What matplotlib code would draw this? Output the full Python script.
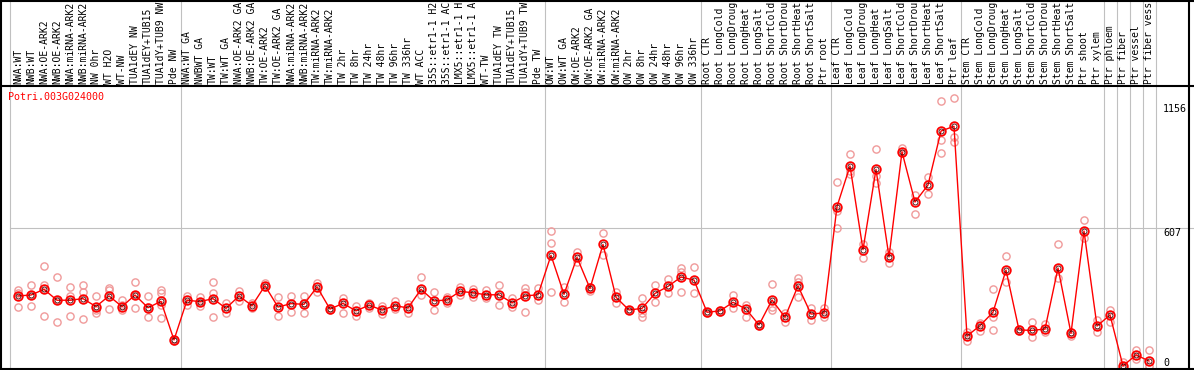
import numpy as np
import matplotlib
matplotlib.use("Agg")
import matplotlib.pyplot as plt

plt.rcParams['font.family'] = ['DejaVu Sans Mono']

gene = "Potri.003G024000"

# sample names as far as they are visible in the header strip
labels = [
    "NWA:WT", "NWB:WT", "NWA:OE-ARK2", "NWB:OE-ARK2", "NWA:miRNA-ARK2", "NWB:miRNA-ARK2",
    "NW 0hr", "WT H2O", "WT-NW", "TUA1dEY NW", "TUA1dEY+TUB15", "TUA1dY+TUB9 NW", "Pde NW",
    "NWA:WT GA", "NWBWT GA", "TW:WT", "TW:WT GA", "NWA:OE-ARK2 GA", "NWB:OE-ARK2 GA",
    "TW:OE-ARK2", "TW:OE-ARK2 GA", "NWA:miRNA-ARK2", "NWB:miRNA-ARK2", "TW:miRNA-ARK2",
    "TW:miRNA-ARK2", "TW 2hr", "TW 8hr", "TW 24hr", "TW 48hr", "TW 96hr", "TW 336hr",
    "WT ACC", "35S::etr1-1 H2", "35S::etr1-1 AC", "LMX5::etr1-1 H", "LMX5::etr1-1 A",
    "WT-TW", "TUA1dEY TW", "TUA1dEY+TUB15", "TUA1dY+TUB9 TW", "Pde TW",
    "OW:WT", "OW:WT GA", "OW:OE-ARK2", "OW:OE-ARK2 GA", "OW:miRNA-ARK2", "OW:miRNA-ARK2",
    "OW 2hr", "OW 8hr", "OW 24hr", "OW 48hr", "OW 96hr", "OW 336hr",
    "Root CTR", "Root LongCold", "Root LongDroug", "Root LongHeat", "Root LongSalt",
    "Root ShortCold", "Root ShortDrou", "Root ShortHeat", "Root ShortSalt", "Ptr root",
    "Leaf CTR", "Leaf LongCold", "Leaf LongDroug", "Leaf LongHeat", "Leaf LongSalt",
    "Leaf ShortCold", "Leaf ShortDrou", "Leaf ShortHeat", "Leaf ShortSalt", "Ptr leaf",
    "Stem CTR", "Stem LongCold", "Stem LongDroug", "Stem LongHeat", "Stem LongSalt",
    "Stem ShortCold", "Stem ShortDrou", "Stem ShortHeat", "Stem ShortSalt", "Ptr shoot",
    "Ptr xylem", "Ptr phloem", "Ptr fiber", "Ptr vessel", "Ptr fiber vess",
]

means = [
    309, 313, 338, 290, 290, 297, 262, 309, 262, 313, 257, 285, 115,
    290, 284, 297, 254, 309, 266, 354, 260, 275, 272, 349, 251, 276, 243, 268, 247,
    266, 256, 338, 287, 291, 329, 323, 314, 314, 279, 309, 314,
    488, 316, 479, 342, 536, 303, 247, 254, 320, 351, 392, 379,
    237, 243, 281, 251, 181, 291, 215, 353, 229, 234,
    703, 882, 513, 867, 481, 944, 723, 798, 1036, 1057,
    132, 178, 237, 423, 159, 157, 163, 432, 144, 595,
    176, 225, 0, 49, 22,
]

reps = [
    [335, 320, 259], [357, 313, 265], [441, 357, 220], [392, 290, 193], [348, 309, 219],
    [357, 328, 207], [309, 247, 235], [345, 335, 250], [290, 269, 247], [370, 313, 254],
    [309, 262, 215], [335, 320, 268, 210], [120, 112],
    [309, 269], [303, 284, 265], [370, 320, 215], [276, 235], [331, 287], [276, 254],
    [365, 350], [303, 219], [309, 238], [309, 276, 232], [365, 328], [254, 248],
    [298, 232], [266, 220], [279, 257], [266, 229], [287, 251], [273, 235],
    [392, 313], [326, 247], [303, 279], [350, 313], [341, 303], [335, 298],
    [357, 269], [298, 262], [342, 328, 237], [342, 291],
    [594, 541, 326], [350, 281], [504, 460], [350, 332], [585, 489], [328, 276],
    [249, 245], [301, 232, 217], [357, 281], [382, 320], [434, 416, 326], [435, 320],
    [240, 235], [246, 240], [313, 257], [269, 215], [184, 178], [362, 262, 247],
    [232, 196], [389, 371, 304], [257, 201], [254, 215],
    [810, 683, 610], [933, 860, 845], [539, 475], [957, 839, 805], [504, 453],
    [960, 938], [754, 669], [835, 757], [1168, 996, 938], [1180, 1008, 986],
    [151, 110], [191, 154], [339, 217, 157], [484, 372], [162, 155], [193, 129],
    [184, 151], [537, 387], [151, 134], [644, 563],
    [201, 151], [247, 196], [19, 0], [71, 31], [69, 0],
]

# last sample index of each block (grey separators)
group_ends = [12, 40, 52, 62, 72, 83, 84, 85, 86, 87]

tick_vals = [0, 607, 1156]
tick_text = ["0", "607", "1156."]

W, H = 1194, 370
fig = plt.figure(figsize=(W / 100, H / 100), dpi=100)

step = 13.0
xlo, xhi = -18 / step, (W - 18) / step
fs = 7.2
grey = "#c0c0c0"

# plot area
ax = fig.add_axes([0, 1 / H, 1, 282 / H])
ax.set_xlim(xlo, xhi)
ax.set_ylim(-3 / 0.2268, 279 / 0.2268)
ax.axis("off")

# label strip
lab = fig.add_axes([0, (H - 85) / H, 1, 85 / H])
lab.set_xlim(xlo, xhi)
lab.set_ylim(85, 0)
lab.axis("off")

for a in (ax, lab):
    a.axvline(-0.6, color=grey, lw=0.8, zorder=1)
    for e in group_ends:
        a.axvline(e + 0.5, color=grey, lw=0.8, zorder=1)

ax.axhline(tick_vals[1], xmin=10 / W, color=grey, lw=0.8, zorder=1)

x = np.arange(len(means))
for i, r in enumerate(reps):
    ax.plot([i] * len(r), r, "o", mfc="none", mec="#f09a9a", ms=5.2, mew=1.0,
            zorder=2, clip_on=False)
ax.plot(x, means, color="red", lw=1.0, zorder=3, clip_on=False)
ax.plot(x, means, "o", mfc="none", mec="red", ms=6.2, mew=1.3, zorder=4, clip_on=False)
ax.plot(x, means, "o", mfc="none", mec="#400000", ms=3.6, mew=0.6, zorder=5, clip_on=False)

for i, t in enumerate(labels):
    lab.text(i, 84, t, rotation=90, ha="center", va="bottom", fontsize=7.0, color="black")

tx = (1163 - 18) / step
ax.text(tx, tick_vals[2], tick_text[2], ha="left", va="top", fontsize=fs)
ax.text(tx, tick_vals[1], tick_text[1], ha="left", va="top", fontsize=fs)
ax.text(tx, tick_vals[0], tick_text[0], ha="left", va="baseline", fontsize=fs)

fig.text(8 / W, 1 - 97 / H, gene, color="red", ha="left", va="center", fontsize=fs)

# frame
ov = fig.add_axes([0, 0, 1, 1], facecolor="none")
ov.set_xlim(0, W)
ov.set_ylim(H, 0)
ov.axis("off")
ov.plot([0, W], [0.5, 0.5], color="black", lw=1.5)
ov.plot([0, W], [85.5, 85.5], color="black", lw=1.5)
ov.plot([0, W], [368.5, 368.5], color="black", lw=1.5)
ov.plot([0.7, 0.7], [0, H], color="black", lw=1.5)
ov.plot([1188.5, 1188.5], [0, H], color="black", lw=1.5)

fig.savefig("out.png", dpi=100)
